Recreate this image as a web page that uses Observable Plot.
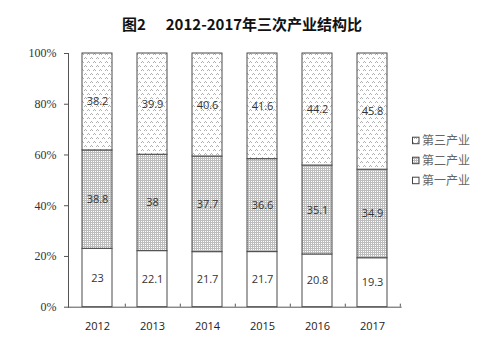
<!DOCTYPE html>
<html>
<head>
<meta charset="utf-8">
<script src="https://cdn.jsdelivr.net/npm/d3@7"></script>
<script src="https://cdn.jsdelivr.net/npm/@observablehq/plot@0.6"></script>
<style>
  body { margin: 0; background: #fff; }
  #wrap { width: 484px; position: relative; }
  #title { height: 40px; box-sizing: border-box; padding-top: 14px; text-align: center;
    font-family: "Noto Sans CJK SC", sans-serif; font-weight: bold; font-size: 15px; line-height: 20px; color: #111; }
  #title .gap { display: inline-block; width: 20px; }
</style>
</head>
<body>
<div id="wrap">
  <div id="title"><span>图2</span><span class="gap"></span><span>2012-2017年三次产业结构比</span></div>
  <div id="chart"></div>
</div>
<script>
const years = ["2012", "2013", "2014", "2015", "2016", "2017"];
const seriesNames = ["第一产业", "第二产业", "第三产业"];
const primary = [23, 22.1, 21.7, 21.7, 20.8, 19.3];
const secondary = [38.8, 38, 37.7, 36.6, 35.1, 34.9];
const tertiary = [38.2, 39.9, 40.6, 41.6, 44.2, 45.8];
const yTicks = [0, 0.2, 0.4, 0.6, 0.8, 1];

const seriesValues = [primary, secondary, tertiary];
const data = years.flatMap((year, i) =>
  seriesNames.map((s, j) => ({year, series: s, value: seriesValues[j][i]}))
);

const fills = ["url(#pat1)", "url(#pat2)", "url(#pat3)"];
const W = 484, H = 314;
const mL = 68, mR = 82.4, mT = 13, mB = 47.3;
const step = (W - mL - mR) / years.length;

const chart = Plot.plot({
  width: W, height: H,
  marginLeft: mL, marginRight: mR, marginTop: mT, marginBottom: mB,
  style: {background: "transparent"},
  x: {domain: years, paddingInner: 0.46, paddingOuter: 0.23, label: null},
  y: {domain: [0, 1], label: null},
  color: {domain: seriesNames, range: fills},
  marks: [
    Plot.barY(data, Plot.stackY({offset: "normalize", order: seriesNames},
      {x: "year", y: "value", z: "series", fill: "series", stroke: "#4a4a4a", strokeWidth: 1})),
    Plot.text(data, Plot.stackY({offset: "normalize", order: seriesNames},
      {x: "year", y: "value", z: "series", text: d => String(d.value),
       fontFamily: "Open Sans", fontSize: 11, fill: "#333"})),
    Plot.axisY({ticks: yTicks, tickFormat: d3.format(".0%"), tickSize: 4, tickPadding: 8,
      fontFamily: "Liberation Serif", fontSize: 12, stroke: "#555", fill: "#333"}),
    Plot.axisX({tickSize: 0, tickPadding: 14.5, fontFamily: "Open Sans", fontSize: 11, fill: "#222"}),
    Plot.frame({anchor: "left", stroke: "#555"}),
    Plot.ruleY([0], {stroke: "#555"}),
    Plot.ruleX(years, {x: d => d, dx: step / 2, y1: 0, y2: 0.012, stroke: "#555"})
  ]
});

const svg = d3.select(chart);
svg.selectAll("text").filter(function() { return /%$/.test(this.textContent); })
  .style("font-family", "'Liberation Serif', 'DejaVu Serif', serif").style("font-size", "12px");

const defs = svg.insert("defs", ":first-child");
defs.append("pattern").attr("id", "pat1").attr("patternUnits", "userSpaceOnUse")
  .attr("width", 4).attr("height", 4)
  .append("rect").attr("width", 4).attr("height", 4).attr("fill", "#fff");
const p2 = defs.append("pattern").attr("id", "pat2").attr("patternUnits", "userSpaceOnUse")
  .attr("width", 2).attr("height", 2);
p2.append("rect").attr("width", 2).attr("height", 2).attr("fill", "#bdbdbd");
p2.append("rect").attr("x", 1).attr("y", 1).attr("width", 1).attr("height", 1).attr("fill", "#fff");
const p3 = defs.append("pattern").attr("id", "pat3").attr("patternUnits", "userSpaceOnUse")
  .attr("width", 6).attr("height", 8);
p3.append("rect").attr("width", 6).attr("height", 8).attr("fill", "#fff");
[[0, 2], [1, 1], [2, 2], [3, 6], [4, 5], [5, 6]].forEach(([x, y]) => {
  p3.append("rect").attr("x", x).attr("y", y).attr("width", 1).attr("height", 1).attr("fill", "#b0b0b0");
});

const legend = svg.append("g").attr("font-family", "Noto Sans CJK SC, sans-serif")
  .attr("font-size", 12).attr("text-anchor", "start");
const legendOrder = [2, 1, 0];
legendOrder.forEach((j, k) => {
  const cy = 100.7 + k * 20;
  legend.append("rect").attr("x", 412.5).attr("y", cy - 3.5).attr("width", 6.5).attr("height", 6.5)
    .attr("fill", fills[j]).attr("stroke", "#444").attr("stroke-width", 1);
  legend.append("text").attr("x", 422).attr("y", cy).attr("dy", "0.35em")
    .attr("text-anchor", "start").attr("fill", "#666").text(seriesNames[j]);
});

document.getElementById("chart").appendChild(chart);
</script>
</body>
</html>
